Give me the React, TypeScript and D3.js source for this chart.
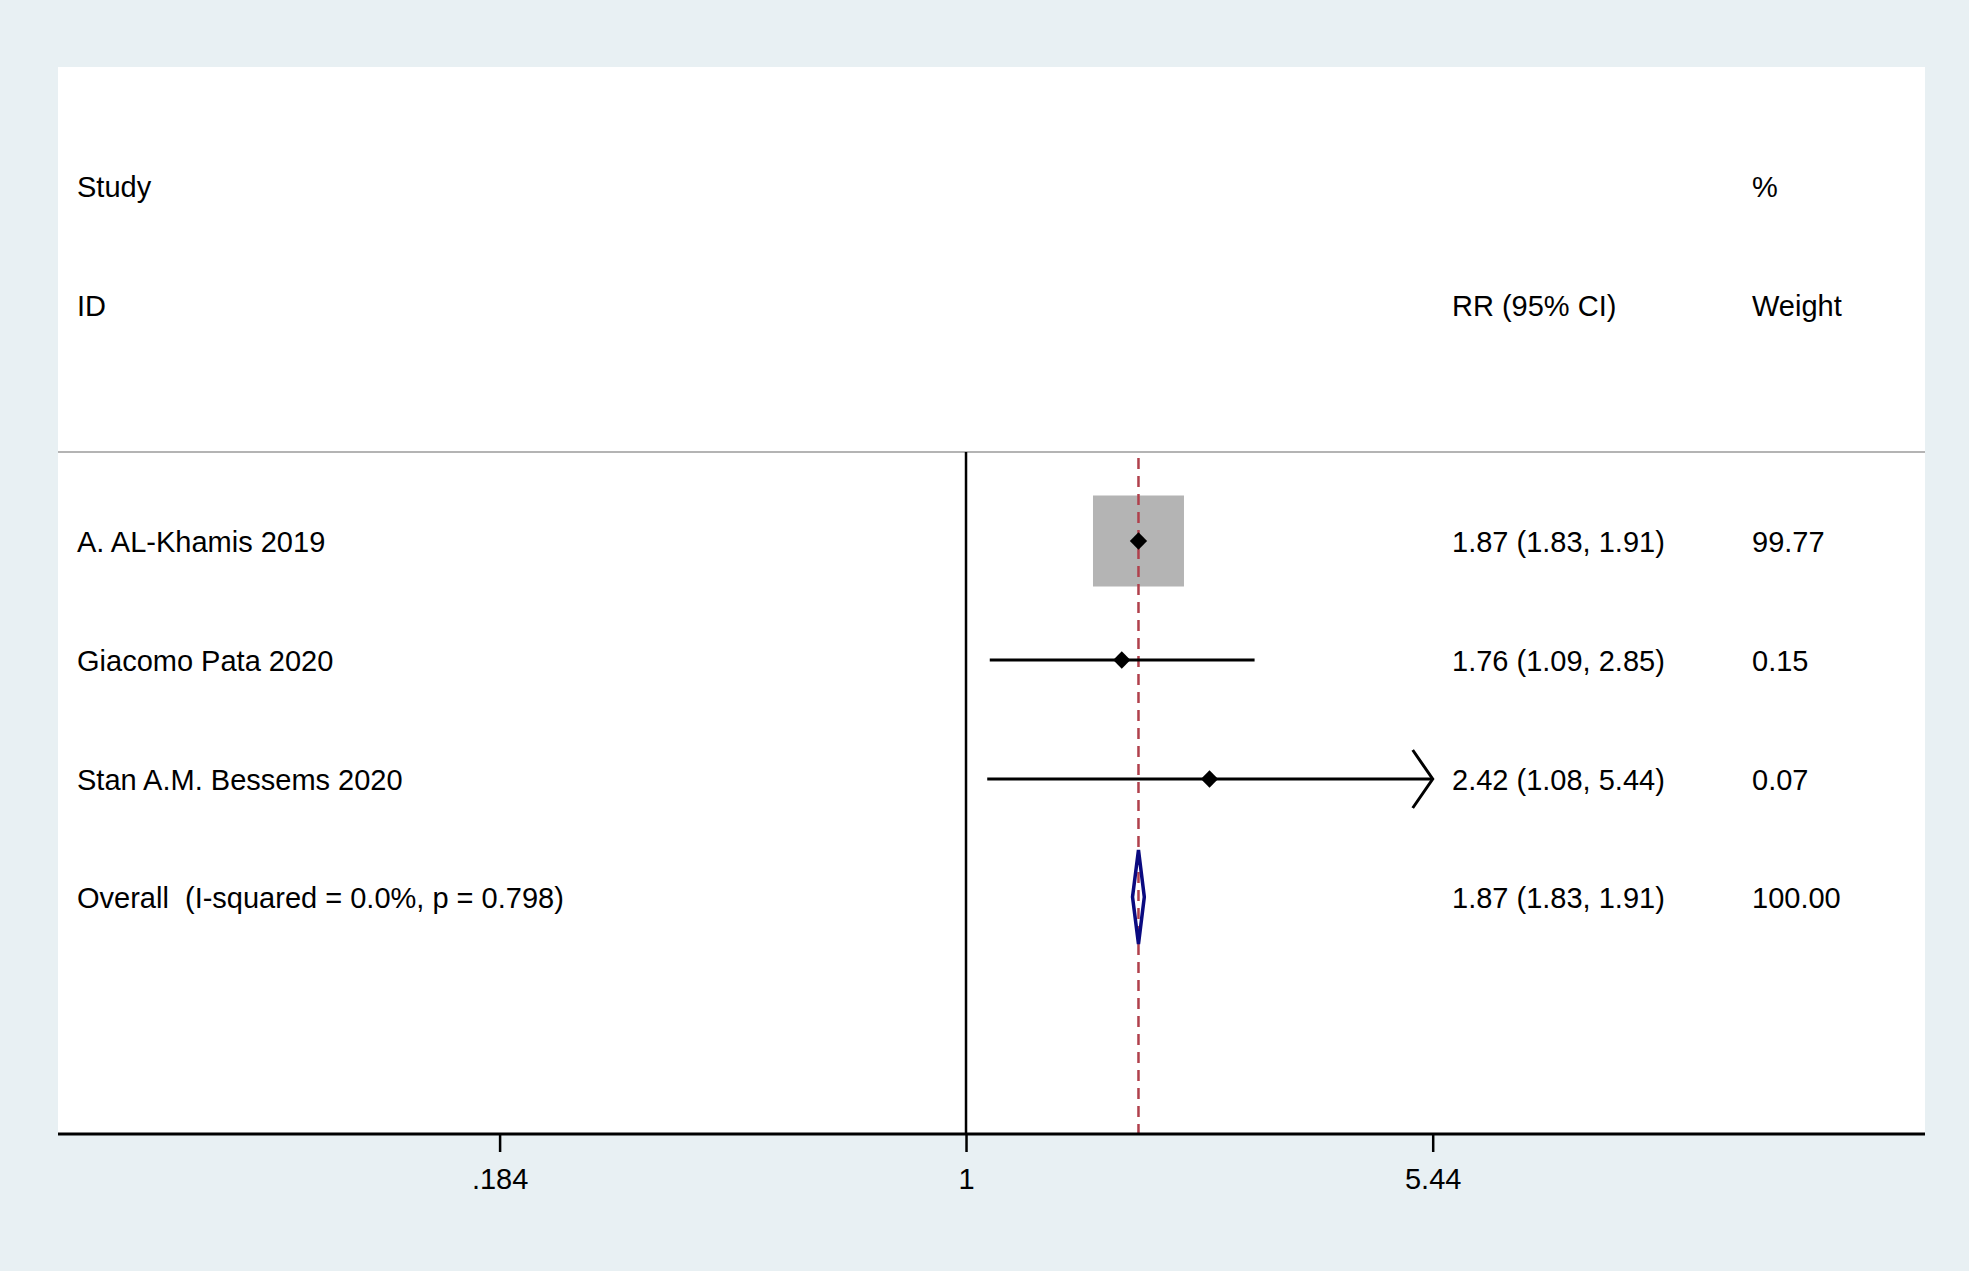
import { useRef, useEffect } from "react";
import * as d3 from "d3";

// study rows
const studies = ["A. AL-Khamis 2019", "Giacomo Pata 2020", "Stan A.M. Bessems 2020"];
const rr = [1.87, 1.76, 2.42];
const lower = [1.83, 1.09, 1.08];
const upper = [1.91, 2.85, 5.44];
const weights = [99.77, 0.15, 0.07];
const rrLabels = ["1.87 (1.83, 1.91)", "1.76 (1.09, 2.85)", "2.42 (1.08, 5.44)"];
const weightLabels = ["99.77", "0.15", "0.07"];

// pooled
const overallLabel = "Overall  (I-squared = 0.0%, p = 0.798)";
const overallRR = 1.87;
const overallLower = 1.83;
const overallUpper = 1.91;
const overallRRLabel = "1.87 (1.83, 1.91)";
const overallWeightLabel = "100.00";

const xTicks = [0.184, 1, 5.44];
const xTickLabels = [".184", "1", "5.44"];

export default function App() {
  const svgRef = useRef<SVGSVGElement>(null);

  useEffect(() => {
    const svg = d3.select(svgRef.current);
    const width = 1969;
    const height = 1271;
    const font = "'Liberation Sans', Arial, sans-serif";
    svg.selectAll("*").remove();
    svg.attr("width", width).attr("height", height);

    // fondo
    svg.append("rect").attr("width", width).attr("height", height).attr("fill", "#e8f0f3");
    const panel = { left: 58, right: 1925, top: 67, bottom: 1134 };
    svg
      .append("rect")
      .attr("x", panel.left)
      .attr("y", panel.top)
      .attr("width", panel.right - panel.left)
      .attr("height", panel.bottom - panel.top)
      .attr("fill", "#ffffff");

    const x = d3.scaleLog().domain([0.184, 5.44]).range([499.6, 1432.7]);
    const y = d3.scaleLinear().domain([0, 1]).range([541, 660]);
    const box = d3.scaleSqrt().domain([0, 99.77]).range([0, 91]);
    const headerY = 452;

    // textos de cabecera
    const txt = (xx: number, yy: number, s: string) =>
      svg
        .append("text")
        .attr("x", xx)
        .attr("y", yy)
        .attr("font-family", font)
        .attr("font-size", 29)
        .attr("fill", "#000")
        .style("white-space", "pre")
        .text(s);

    txt(77, 197, "Study");
    txt(77, 316, "ID");
    txt(1452, 316, "RR (95% CI)");
    txt(1752, 197, "%");
    txt(1752, 316, "Weight");

    // línea de cabecera
    svg
      .append("line")
      .attr("x1", panel.left)
      .attr("x2", panel.right)
      .attr("y1", headerY)
      .attr("y2", headerY)
      .attr("stroke", "#b4b4b4")
      .attr("stroke-width", 2);

    // línea de no efecto
    svg
      .append("line")
      .attr("x1", x(1))
      .attr("x2", x(1))
      .attr("y1", headerY)
      .attr("y2", panel.bottom)
      .attr("stroke", "#000")
      .attr("stroke-width", 2.5);

    // cajas de peso
    studies.forEach((_, i) => {
      const s = box(weights[i]);
      svg
        .append("rect")
        .attr("x", x(rr[i]) - s / 2)
        .attr("y", y(i) - s / 2)
        .attr("width", s)
        .attr("height", s)
        .attr("fill", "#b4b4b4");
    });

    // línea del efecto global
    svg
      .append("line")
      .attr("x1", x(overallRR))
      .attr("x2", x(overallRR))
      .attr("y1", headerY + 6)
      .attr("y2", panel.bottom)
      .attr("stroke", "#b0404c")
      .attr("stroke-width", 2.5)
      .attr("stroke-dasharray", "11,7");

    // intervalos
    const [xMin, xMax] = x.domain();
    studies.forEach((name, i) => {
      const lo = Math.max(lower[i], xMin);
      const hi = Math.min(upper[i], xMax);
      svg
        .append("line")
        .attr("x1", x(lo))
        .attr("x2", x(hi))
        .attr("y1", y(i))
        .attr("y2", y(i))
        .attr("stroke", "#000")
        .attr("stroke-width", 3);
      if (upper[i] >= xMax) {
        const tip = x(xMax);
        svg
          .append("path")
          .attr("d", `M${tip - 20},${y(i) - 29}L${tip},${y(i)}L${tip - 20},${y(i) + 29}`)
          .attr("fill", "none")
          .attr("stroke", "#000")
          .attr("stroke-width", 3);
      }
      svg
        .append("path")
        .attr("d", d3.symbol(d3.symbolDiamond2, 190)())
        .attr("transform", `translate(${x(rr[i])},${y(i)})`)
        .attr("fill", "#000");

      txt(77, y(i), name).attr("dy", "0.38em");
      txt(1452, y(i), rrLabels[i]).attr("dy", "0.38em");
      txt(1752, y(i), weightLabels[i]).attr("dy", "0.38em");
    });

    // diamante global
    const oy = y(studies.length) - 1;
    svg
      .append("path")
      .attr(
        "d",
        `M${x(overallLower)},${oy}L${x(overallRR)},${oy - 47}L${x(overallUpper)},${oy}L${x(overallRR)},${oy + 47}Z`
      )
      .attr("fill", "none")
      .attr("stroke", "#0a0a80")
      .attr("stroke-width", 3.5);
    txt(77, oy, overallLabel).attr("dy", "0.38em");
    txt(1452, oy, overallRRLabel).attr("dy", "0.38em");
    txt(1752, oy, overallWeightLabel).attr("dy", "0.38em");

    // eje x
    const axis = svg.append("g").attr("transform", `translate(0,${panel.bottom})`);
    axis
      .call(
        d3
          .axisBottom(x)
          .tickValues(xTicks)
          .tickFormat((_, i) => xTickLabels[i])
          .tickSize(18)
          .tickSizeOuter(0)
          .tickPadding(16)
      )
      .attr("font-family", font)
      .attr("font-size", 29);
    axis.select(".domain").remove();
    axis.selectAll(".tick line").attr("stroke", "#000").attr("stroke-width", 2.5);
    axis.selectAll(".tick text").attr("fill", "#000");
    svg
      .append("line")
      .attr("x1", panel.left)
      .attr("x2", panel.right)
      .attr("y1", panel.bottom)
      .attr("y2", panel.bottom)
      .attr("stroke", "#000")
      .attr("stroke-width", 3);
  }, []);

  return <svg ref={svgRef} style={{ position: "absolute", left: 0, top: 0 }}></svg>;
}
